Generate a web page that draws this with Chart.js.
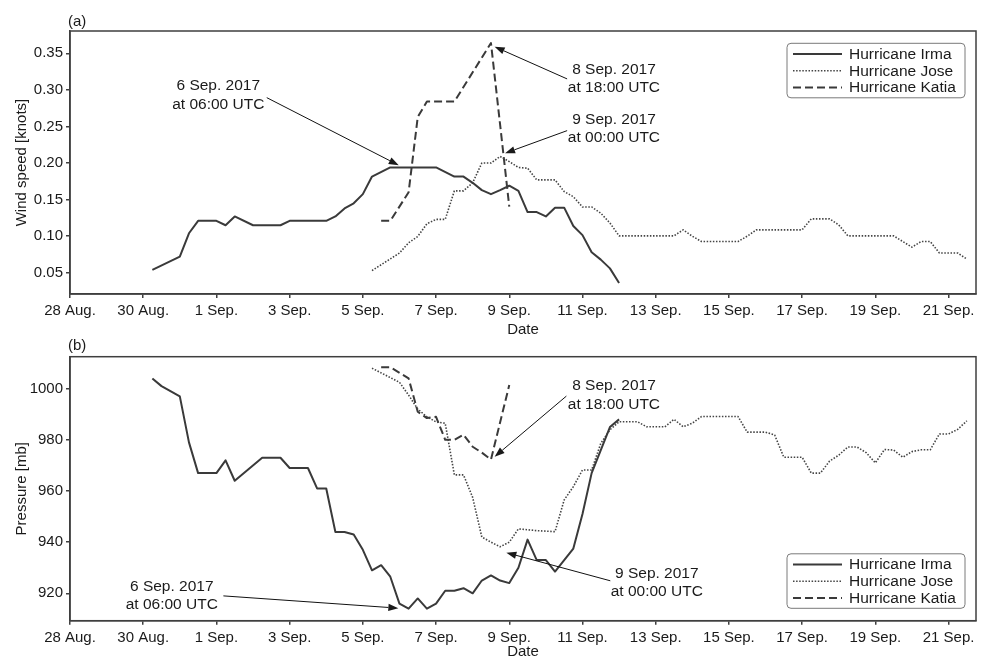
<!DOCTYPE html>
<html>
<head>
<meta charset="utf-8">
<script src="https://cdn.jsdelivr.net/npm/chart.js@4.4.0/dist/chart.umd.min.js"></script>
<style>
  html, body { margin: 0; padding: 0; background: #ffffff; }
  #wrap { position: relative; width: 983px; height: 661px; overflow: hidden; background: #ffffff; }
  #wrap canvas { position: absolute; left: 0; }
  #windCanvas { top: 0; }
  #pressCanvas { top: 325px; }
</style>
</head>
<body>
<div id="wrap">
  <canvas id="windCanvas" width="983" height="340"></canvas>
  <canvas id="pressCanvas" width="983" height="336"></canvas>
</div>
<script>
// Time axis: days counted from 28 Aug. 2017, 00:00 UTC
const tickDays = [0, 2, 4, 6, 8, 10, 12, 14, 16, 18, 20, 22, 24];
const tickLabels = ['28 Aug.', '30 Aug.', '1 Sep.', '3 Sep.', '5 Sep.', '7 Sep.', '9 Sep.',
                    '11 Sep.', '13 Sep.', '15 Sep.', '17 Sep.', '19 Sep.', '21 Sep.'];
const windTicks = [0.05, 0.10, 0.15, 0.20, 0.25, 0.30, 0.35];
const pressureTicks = [920, 940, 960, 980, 1000];

// Hurricane Irma
const irmaWindDays = [2.25, 3.0, 3.25, 3.5, 4.0, 4.25, 4.5, 5.0, 5.75, 6.0, 7.0, 7.25, 7.5, 7.75, 8.0, 8.25, 8.75,
                      10.0, 10.5, 10.75, 11.0, 11.25, 11.5, 11.75, 12.0, 12.25, 12.5, 12.75, 13.0, 13.25, 13.5,
                      13.75, 14.0, 14.25, 14.5, 14.75, 15.0];
const irmaWind = [0.054, 0.072, 0.104, 0.121, 0.121, 0.115, 0.127, 0.115, 0.115, 0.121, 0.121, 0.127, 0.138, 0.145,
                  0.1575, 0.1815, 0.194, 0.194, 0.1815, 0.1815, 0.173, 0.163, 0.1575, 0.163, 0.169, 0.162, 0.133,
                  0.133, 0.127, 0.139, 0.139, 0.114, 0.1015, 0.078, 0.068, 0.056, 0.036];
const irmaPressureDays = [2.25, 2.5, 3.0, 3.25, 3.5, 4.0, 4.25, 4.5, 5.25, 5.75, 6.0, 6.5, 6.75, 7.0, 7.25, 7.5, 7.75,
                          8.0, 8.25, 8.5, 8.75, 9.0, 9.25, 9.5, 9.75, 10.0, 10.25, 10.5, 10.75, 11.0, 11.25, 11.5,
                          11.75, 12.0, 12.25, 12.5, 12.75, 13.0, 13.25, 13.5, 13.75, 14.0, 14.25, 14.5, 14.75, 15.0];
const irmaPressure = [1004, 1001, 997, 979, 967, 967, 972, 964, 973, 973, 969, 969, 961, 961, 944, 944, 943,
                      937, 929, 931, 926.5, 916, 914, 918, 914, 916, 921, 921, 922, 920, 925, 927,
                      925, 924, 930, 941, 933, 933, 928.5, 933, 937.5, 951, 967, 976, 985, 988];

// Hurricane Jose
const joseWindDays = [8.25, 9.0, 9.25, 9.5, 9.75, 10.0, 10.25, 10.5, 10.75, 11.0, 11.25, 11.5, 11.75, 12.0, 12.25,
                      12.5, 12.75, 13.25, 13.5, 13.75, 14.0, 14.25, 14.5, 14.75, 15.0, 16.5, 16.75, 17.0, 17.25,
                      18.25, 18.5, 18.75, 20.0, 20.25, 20.75, 21.0, 21.25, 22.5, 22.75, 23.0, 23.25, 23.5, 23.75,
                      24.25, 24.5];
const joseWind = [0.053, 0.077, 0.091, 0.0996, 0.117, 0.123, 0.123, 0.162, 0.162, 0.173, 0.200, 0.200, 0.209, 0.202,
                  0.194, 0.193, 0.177, 0.177, 0.161, 0.154, 0.140, 0.140, 0.1315, 0.118, 0.1005, 0.1005, 0.1087,
                  0.100, 0.0927, 0.0927, 0.100, 0.1087, 0.1087, 0.1237, 0.1237, 0.1155, 0.1005, 0.1005, 0.0927,
                  0.085, 0.0927, 0.0927, 0.077, 0.077, 0.0687];
const josePressureDays = [8.25, 9.0, 9.25, 9.5, 9.75, 10.0, 10.25, 10.5, 10.75, 11.0, 11.25, 11.5, 11.75, 12.0, 12.25,
                          12.75, 13.25, 13.5, 13.75, 14.0, 14.25, 14.5, 14.75, 15.0, 15.5, 15.75, 16.25, 16.5, 16.75,
                          17.0, 17.25, 18.25, 18.5, 19.0, 19.25, 19.5, 20.0, 20.25, 20.5, 20.75, 21.0, 21.25, 21.5,
                          21.75, 22.0, 22.25, 22.5, 22.75, 23.0, 23.25, 23.5, 23.75, 24.0, 24.25, 24.5];
const josePressure = [1008, 1002.5, 997.5, 992, 989, 987, 986.5, 966.3, 966.3, 957.5, 942, 940, 938.2, 940, 945.2,
                      944.5, 944.1, 956.5, 961.7, 968.2, 968.2, 978.6, 983.9, 987.1, 987.1, 985.1, 985.1, 988, 985.1,
                      986.5, 989.1, 989.1, 983, 983, 981.9, 973.2, 973.2, 967, 967, 971.7, 974, 977.2, 977.2,
                      975, 971, 976.2, 976, 973.2, 975.4, 976.1, 976.1, 982.3, 982.3, 984.1, 987.4];

// Hurricane Katia
const katiaWindDays = [8.5, 8.75, 9.25, 9.5, 9.75, 10.5, 11.5, 12.0];
const katiaWind = [0.121, 0.121, 0.160, 0.263, 0.284, 0.284, 0.364, 0.1405];
const katiaPressureDays = [8.5, 8.75, 9.25, 9.5, 9.75, 10.0, 10.25, 10.5, 10.75, 11.0, 11.25, 11.5, 12.0];
const katiaPressure = [1008.4, 1008.4, 1004, 991, 988.5, 989, 980, 980, 982, 977.3, 975, 972.3, 1001.4];

const seriesNames = ['Hurricane Irma', 'Hurricane Jose', 'Hurricane Katia'];

const TEXT = '#1a1a1a';
const AXIS = '#3f3f3f';
const FONT = "'Liberation Sans', Arial, Helvetica, sans-serif";
Chart.defaults.font.family = FONT;
Chart.defaults.font.size = 15;
Chart.defaults.color = TEXT;

const lineStyles = [
  { color: '#3a3a3a', width: 2.0, dash: [] },
  { color: '#444444', width: 1.6, dash: [1.5, 1.6] },
  { color: '#3a3a3a', width: 2.0, dash: [8, 4] }
];

function toPoints(days, vals) {
  return days.map((d, i) => ({ x: d, y: vals[i] }));
}

function drawArrow(ctx, x0, y0, x1, y1) {
  const ang = Math.atan2(y1 - y0, x1 - x0);
  const len = 10, half = 3.6;
  const bx = x1 - len * Math.cos(ang), by = y1 - len * Math.sin(ang);
  ctx.beginPath();
  ctx.moveTo(x0, y0);
  ctx.lineTo(bx, by);
  ctx.stroke();
  ctx.beginPath();
  ctx.moveTo(x1, y1);
  ctx.lineTo(bx + half * Math.sin(ang), by - half * Math.cos(ang));
  ctx.lineTo(bx - half * Math.sin(ang), by + half * Math.cos(ang));
  ctx.closePath();
  ctx.fill();
}

// Frame, panel tag, callouts and legend box
function decorPlugin(tag, tagGap, notes, legendPos) {
  return {
    id: 'decor',
    afterDatasetsDraw(chart) {
      const { ctx, chartArea: a, scales } = chart;
      const X = scales.x, Y = scales.y;
      ctx.save();
      // closing frame on top and right
      ctx.strokeStyle = AXIS;
      ctx.lineWidth = 1.5;
      ctx.strokeRect(a.left, a.top, a.right - a.left, a.bottom - a.top);

      // callouts
      ctx.fillStyle = TEXT;
      ctx.strokeStyle = '#111111';
      ctx.lineWidth = 1;
      ctx.font = '15.5px ' + FONT;
      ctx.textAlign = 'center';
      ctx.textBaseline = 'middle';
      notes.forEach(n => {
        const tx = X.getPixelForValue(n.at[0]), ty = Y.getPixelForValue(n.at[1]);
        ctx.fillText(n.lines[0], tx, ty - 9.2);
        ctx.fillText(n.lines[1], tx, ty + 9.2);
        drawArrow(ctx,
          X.getPixelForValue(n.from[0]), Y.getPixelForValue(n.from[1]),
          X.getPixelForValue(n.to[0]), Y.getPixelForValue(n.to[1]));
      });

      // legend
      const w = 178, h = 54.5;
      const lx = a.right - 11 - w;
      const ly = legendPos === 'top' ? a.top + 12.3 : a.bottom - 12.4 - h;
      ctx.beginPath();
      ctx.roundRect(lx, ly, w, h, 4);
      ctx.fillStyle = 'rgba(255,255,255,0.85)';
      ctx.fill();
      ctx.strokeStyle = '#7a7a7a';
      ctx.lineWidth = 1;
      ctx.stroke();
      ctx.textAlign = 'left';
      ctx.fillStyle = TEXT;
      seriesNames.forEach((name, i) => {
        const yy = ly + 10.8 + i * 16.7;
        const st = lineStyles[i];
        ctx.strokeStyle = st.color;
        ctx.lineWidth = st.width;
        ctx.setLineDash(st.dash);
        ctx.lineCap = 'butt';
        ctx.beginPath();
        ctx.moveTo(lx + 6, yy);
        ctx.lineTo(lx + 55, yy);
        ctx.stroke();
        ctx.setLineDash([]);
        ctx.fillText(name, lx + 62, yy + 0.5);
      });

      // panel tag
      ctx.font = '15px ' + FONT;
      ctx.textAlign = 'left';
      ctx.fillText(tag, a.left - 2, a.top - tagGap);
      ctx.restore();
    }
  };
}

function makePanel(canvas, cfg) {
  const datasets = cfg.series.map((s, i) => ({
    label: seriesNames[i],
    data: toPoints(s[0], s[1]),
    borderColor: lineStyles[i].color,
    borderWidth: lineStyles[i].width,
    borderDash: lineStyles[i].dash,
    borderCapStyle: 'butt',
    borderJoinStyle: 'round',
    pointRadius: 0,
    tension: 0,
    fill: false
  }));
  const axisGrid = { display: true, drawOnChartArea: false, drawTicks: true, tickLength: 4, color: AXIS, lineWidth: 1.5 };
  const axisBorder = { display: true, color: AXIS, width: 1.5 };
  return new Chart(canvas, {
    type: 'line',
    data: { datasets },
    options: {
      responsive: false,
      animation: false,
      devicePixelRatio: 1,
      layout: { padding: { top: cfg.padTop, right: 7, bottom: 0, left: 0 } },
      plugins: { legend: { display: false }, tooltip: { enabled: false } },
      scales: {
        x: {
          type: 'linear', min: 0, max: 24.75,
          afterBuildTicks: ax => { ax.ticks = tickDays.map(v => ({ value: v })); },
          afterFit: ax => { ax.height = cfg.xAxisH; },
          grid: axisGrid, border: axisBorder,
          ticks: { padding: 4, color: TEXT, maxRotation: 0, autoSkip: false,
                   callback: v => tickLabels[tickDays.indexOf(v)] },
          title: { display: true, text: 'Date', color: TEXT, font: { size: 15, lineHeight: 1.2 },
                   padding: { top: 0, bottom: cfg.datePad } }
        },
        y: {
          type: 'linear', min: cfg.yMin, max: cfg.yMax,
          afterBuildTicks: ax => { ax.ticks = cfg.yTicks.map(v => ({ value: v })); },
          afterFit: ax => { ax.width = 70; },
          grid: axisGrid, border: axisBorder,
          ticks: { padding: 3, color: TEXT, callback: cfg.yFmt },
          title: { display: true, text: cfg.yTitle, color: TEXT, font: { size: 15, lineHeight: 1.2 },
                   padding: { top: 13, bottom: 0 } }
        }
      }
    },
    plugins: [decorPlugin(cfg.tag, cfg.tagGap, cfg.notes, cfg.legendPos)]
  });
}

makePanel(document.getElementById('windCanvas'), {
  tag: '(a)', tagGap: 9.5, padTop: 31, xAxisH: 46, datePad: 1.5,
  yMin: 0.021, yMax: 0.3805, yTicks: windTicks, yFmt: v => v.toFixed(2),
  yTitle: 'Wind speed [knots]', legendPos: 'top',
  series: [[irmaWindDays, irmaWind], [joseWindDays, joseWind], [katiaWindDays, katiaWind]],
  notes: [
    { lines: ['6 Sep. 2017', 'at 06:00 UTC'], at: [4.05, 0.2925], from: [5.375, 0.2894], to: [8.98, 0.197] },
    { lines: ['8 Sep. 2017', 'at 18:00 UTC'], at: [14.86, 0.3155], from: [13.58, 0.315], to: [11.6, 0.359] },
    { lines: ['9 Sep. 2017', 'at 00:00 UTC'], at: [14.86, 0.2468], from: [13.58, 0.2443], to: [11.885, 0.2134] }
  ]
});

makePanel(document.getElementById('pressCanvas'), {
  tag: '(b)', tagGap: 11, padTop: 31.7, xAxisH: 40.3, datePad: 0,
  yMin: 909.3, yMax: 1012.5, yTicks: pressureTicks, yFmt: v => String(v),
  yTitle: 'Pressure [mb]', legendPos: 'bottom',
  series: [[irmaPressureDays, irmaPressure], [josePressureDays, josePressure], [katiaPressureDays, katiaPressure]],
  notes: [
    { lines: ['6 Sep. 2017', 'at 06:00 UTC'], at: [2.78, 919.0], from: [4.19, 919.0], to: [8.97, 914.2] },
    { lines: ['8 Sep. 2017', 'at 18:00 UTC'], at: [14.86, 997.5], from: [13.56, 997.1], to: [11.6, 973.4] },
    { lines: ['9 Sep. 2017', 'at 00:00 UTC'], at: [16.03, 924.2], from: [14.76, 924.9], to: [11.92, 935.9] }
  ]
});
</script>
</body>
</html>
